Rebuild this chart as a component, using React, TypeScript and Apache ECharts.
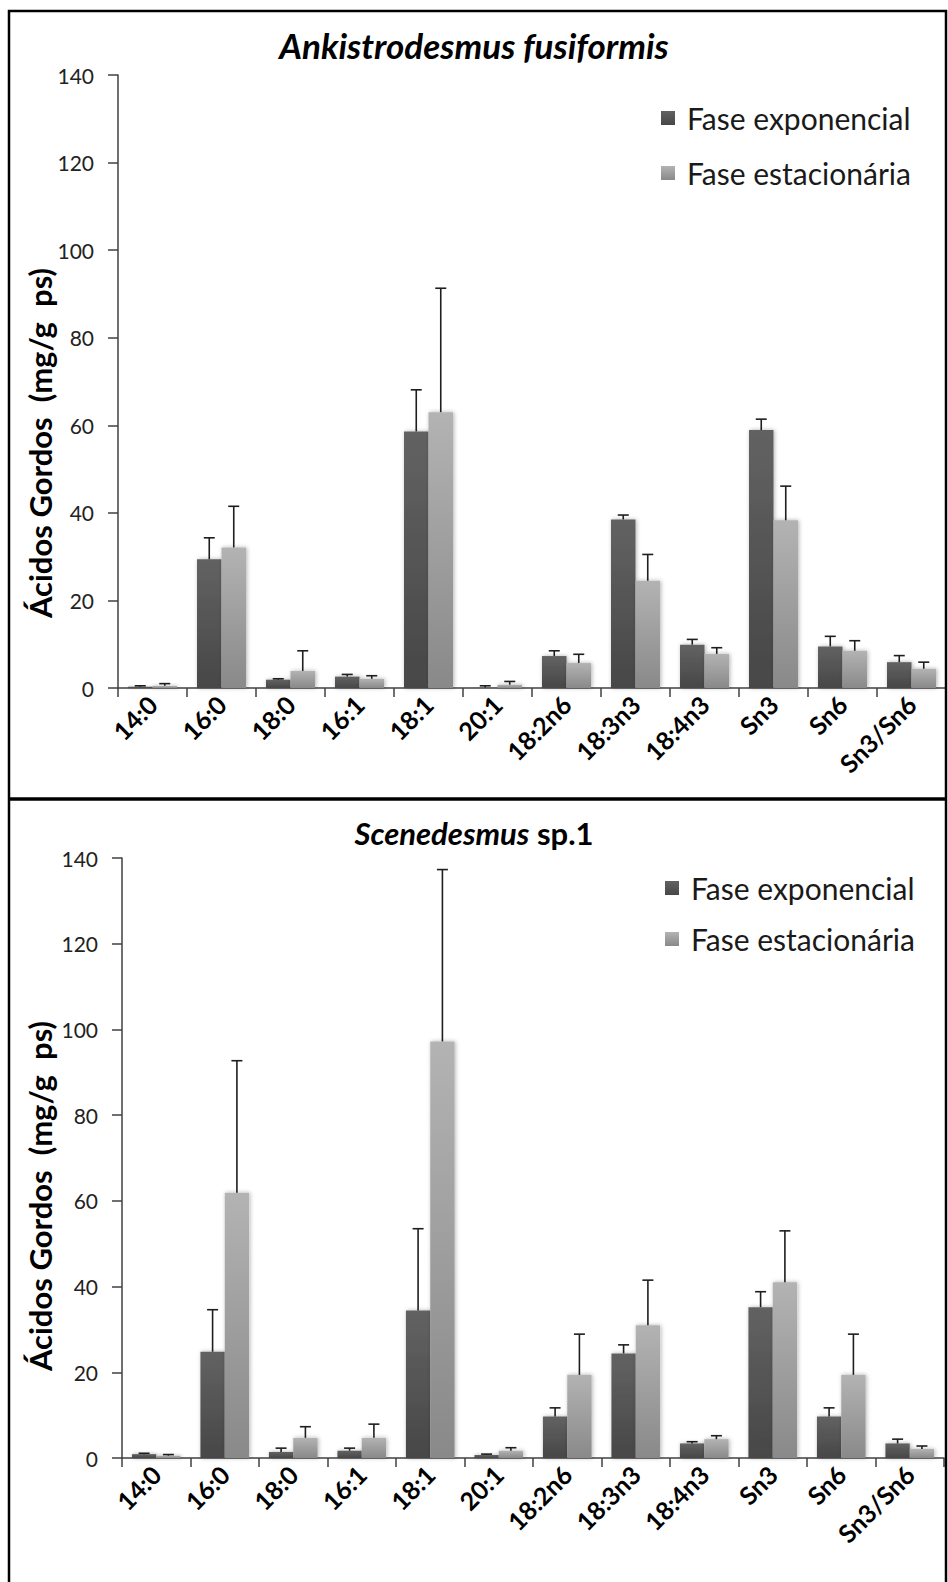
import React, { useEffect, useRef } from "react";
import * as echarts from "echarts";

const categories = ["14:0", "16:0", "18:0", "16:1", "18:1", "20:1", "18:2n6", "18:3n3", "18:4n3", "Sn3", "Sn6", "Sn3/Sn6"];
const seriesNames = ["Fase exponencial", "Fase estacionária"];
const yTicks = { min: 0, max: 140, interval: 20 };

// Ankistrodesmus fusiformis
const expA = [0.3, 29.4, 1.9, 2.6, 58.6, 0.1, 7.3, 38.5, 9.9, 58.9, 9.5, 5.9];
const expAErr = [0.2, 4.9, 0.2, 0.5, 9.5, 0.4, 1.2, 1.0, 1.2, 2.5, 2.3, 1.5];
const staA = [0.5, 32.1, 3.9, 2.1, 63.0, 0.75, 5.7, 24.5, 7.8, 38.3, 8.5, 4.4];
const staAErr = [0.5, 9.4, 4.6, 0.7, 28.3, 0.75, 2.0, 6.0, 1.4, 7.8, 2.3, 1.5];

// Scenedesmus sp.1
const expB = [0.9, 24.8, 1.4, 1.7, 34.4, 0.7, 9.7, 24.4, 3.4, 35.2, 9.7, 3.4];
const expBErr = [0.2, 9.8, 0.9, 0.6, 19.1, 0.2, 2.0, 2.0, 0.4, 3.6, 2.0, 1.0];
const staB = [0.55, 61.9, 4.7, 4.7, 97.2, 1.7, 19.4, 31.0, 4.4, 41.0, 19.4, 2.1];
const staBErr = [0.25, 30.8, 2.6, 3.2, 40.1, 0.7, 9.5, 10.5, 0.8, 12.0, 9.5, 0.7];

const FONT = "Lato, 'Open Sans', sans-serif";
const BAR_FRAC = 0.355;

const darkGrad = () =>
  new echarts.graphic.LinearGradient(0, 0, 0, 1, [
    { offset: 0, color: "#626262" },
    { offset: 1, color: "#474747" },
  ]);
const lightGrad = () =>
  new echarts.graphic.LinearGradient(0, 0, 0, 1, [
    { offset: 0, color: "#b3b3b3" },
    { offset: 1, color: "#898989" },
  ]);

function errSeries(vals: number[], errs: number[], side: number, gi: number) {
  return {
    type: "custom",
    name: "err" + gi + side,
    xAxisIndex: gi,
    yAxisIndex: gi,
    z: 5,
    silent: true,
    encode: { x: 0, y: 1 },
    data: vals.map((v, i) => [i, v, errs[i]]),
    renderItem: (params: any, api: any) => {
      const idx = api.value(0);
      const v = api.value(1);
      const e = api.value(2);
      const base = api.coord([idx, v]);
      const top = api.coord([idx, v + e]);
      const catW = api.size([1, 0])[0];
      const barW = catW * BAR_FRAC;
      const x = base[0] + (side * barW) / 2;
      const st = { stroke: "#1e1e1e", lineWidth: 1.6 };
      return {
        type: "group",
        children: [
          { type: "line", shape: { x1: x, y1: base[1], x2: x, y2: top[1] }, style: st },
          { type: "line", shape: { x1: x - 5.5, y1: top[1], x2: x + 5.5, y2: top[1] }, style: st },
        ],
      };
    },
  };
}

function barSeries(name: string, vals: number[], gi: number, dark: boolean) {
  return {
    type: "bar",
    name,
    xAxisIndex: gi,
    yAxisIndex: gi,
    barWidth: BAR_FRAC * 100 + "%",
    barGap: "0%",
    data: vals,
    itemStyle: {
      color: dark ? darkGrad() : lightGrad(),
      shadowBlur: 4,
      shadowColor: "rgba(0,0,0,0.3)",
      shadowOffsetX: 1,
      shadowOffsetY: 0,
    },
  };
}

const axisColor = "#404040";

function xAxisFor(gi: number) {
  return {
    type: "category",
    gridIndex: gi,
    data: categories,
    axisLine: { lineStyle: { color: axisColor, width: 1.5 } },
    axisTick: { show: true, length: 9, lineStyle: { color: axisColor, width: 1.5 } },
    axisLabel: {
      rotate: 45,
      interval: 0,
      margin: 12,
      fontFamily: FONT,
      fontWeight: "bold",
      fontSize: 25,
      color: "#000",
    },
  };
}

function yAxisFor(gi: number) {
  return {
    type: "value",
    gridIndex: gi,
    min: yTicks.min,
    max: yTicks.max,
    interval: yTicks.interval,
    splitLine: { show: false },
    axisLine: { show: true, lineStyle: { color: axisColor, width: 1.5 } },
    axisTick: { show: true, length: 10, lineStyle: { color: axisColor, width: 1.5 } },
    axisLabel: { margin: 24, fontFamily: FONT, fontSize: 21, color: "#222" },
  };
}

function legendFor(left: number, top: number, gap: number) {
  return {
    data: seriesNames,
    orient: "vertical",
    left,
    top,
    icon: "rect",
    itemWidth: 14,
    itemHeight: 14,
    itemGap: gap,
    textStyle: { fontFamily: FONT, fontSize: 30, color: "#1a1a1a", padding: [0, 0, 0, 7] },
  };
}

const yTitle = "Ácidos Gordos  (mg/g  ps)";

export default function App() {
  const ref = useRef<HTMLDivElement>(null);
  useEffect(() => {
    if (!ref.current) return;
    const chart = echarts.init(ref.current, undefined, { renderer: "svg" });
    const yTitleStyle = {
      text: yTitle,
      align: "center",
      verticalAlign: "middle",
      fontFamily: FONT,
      fontWeight: "bold",
      fontSize: 31,
      fill: "#000",
    };
    chart.setOption({
      animation: false,
      backgroundColor: "#fff",
      grid: [
        { left: 118, top: 75, width: 828, height: 613, containLabel: false },
        { left: 122, top: 858, width: 822, height: 600, containLabel: false },
      ],
      xAxis: [xAxisFor(0), xAxisFor(1)],
      yAxis: [yAxisFor(0), yAxisFor(1)],
      legend: [legendFor(656, 98, 25), legendFor(660, 868, 21)],
      series: [
        barSeries(seriesNames[0], expA, 0, true),
        barSeries(seriesNames[1], staA, 0, false),
        errSeries(expA, expAErr, -1, 0),
        errSeries(staA, staAErr, 1, 0),
        barSeries(seriesNames[0], expB, 1, true),
        barSeries(seriesNames[1], staB, 1, false),
        errSeries(expB, expBErr, -1, 1),
        errSeries(staB, staBErr, 1, 1),
      ],
      graphic: [
        {
          type: "rect",
          shape: { x: 9, y: 11, width: 937, height: 1600 },
          style: { fill: "none", stroke: "#000", lineWidth: 2.5 },
          z: 100,
        },
        {
          type: "line",
          shape: { x1: 9, y1: 799, x2: 946, y2: 799 },
          style: { stroke: "#000", lineWidth: 3.5 },
          z: 100,
        },
        {
          type: "text",
          x: 474,
          y: 45,
          style: {
            text: "Ankistrodesmus fusiformis",
            align: "center",
            verticalAlign: "middle",
            fontFamily: FONT,
            fontWeight: "bold",
            fontStyle: "italic",
            fontSize: 35,
            fill: "#000",
          },
        },
        {
          type: "text",
          x: 474,
          y: 833,
          style: {
            text: "{i|Scenedesmus}{n| sp.1}",
            align: "center",
            verticalAlign: "middle",
            rich: {
              i: { fontFamily: FONT, fontWeight: "bold", fontStyle: "italic", fontSize: 31, fill: "#000" },
              n: { fontFamily: FONT, fontWeight: "bold", fontSize: 31, fill: "#000" },
            },
          },
        },
        { type: "text", x: 40, y: 443, rotation: Math.PI / 2, style: yTitleStyle },
        { type: "text", x: 40, y: 1196, rotation: Math.PI / 2, style: yTitleStyle },
      ],
    });
    return () => chart.dispose();
  }, []);
  return (
    <div
      ref={ref}
      style={{ position: "absolute", left: 0, top: 0, width: 948, height: 1582, background: "#fff" }}
    />
  );
}
